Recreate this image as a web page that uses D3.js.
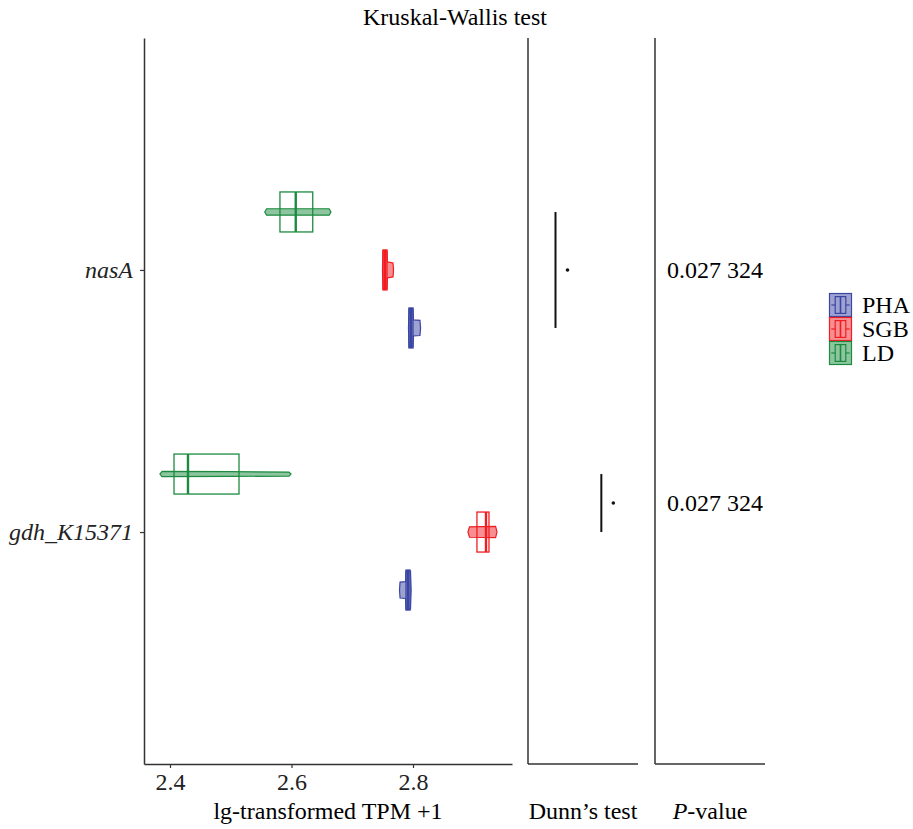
<!DOCTYPE html>
<html>
<head>
<meta charset="utf-8">
<script src="https://cdn.jsdelivr.net/npm/d3@7/dist/d3.min.js"></script>
<style>
  html, body { margin: 0; padding: 0; background: #fff; }
  svg { display: block; font-family: "Liberation Serif", "DejaVu Serif", serif; }
</style>
</head>
<body>
<svg id="chart" width="913" height="829"></svg>
<script>
// ---- data ----
const genes = ["nasA", "gdh_K15371"];
const groups = ["LD", "SGB", "PHA"];
const legendOrder = ["PHA", "SGB", "LD"];
const xTicks = [2.4, 2.6, 2.8];

// box statistics per gene, in group order LD, SGB, PHA
const q1Values = {
  nasA:        [2.581, 2.7506, 2.7934],
  gdh_K15371:  [2.4066, 2.9053, 2.7885]
};
const medianValues = {
  nasA:        [2.607, 2.7539, 2.7967],
  gdh_K15371:  [2.4296, 2.9202, 2.7918]
};
const q3Values = {
  nasA:        [2.635, 2.7572, 2.8000],
  gdh_K15371:  [2.5136, 2.9251, 2.7951]
};

// violin outlines: [value, relative half-thickness]
const violinNasA_LD  = [[2.556, 0], [2.559, 0.16], [2.662, 0.16], [2.665, 0]];
const violinNasA_SGB = [[2.7498, 0], [2.7506, 0.95], [2.7572, 0.95], [2.758, 0.4], [2.7671, 0.35], [2.768, 0]];
const violinNasA_PHA = [[2.7926, 0], [2.7934, 0.95], [2.8000, 0.95], [2.8008, 0.4], [2.8115, 0.38], [2.8125, 0]];
const violinGdh_LD   = [[2.3835, 0], [2.387, 0.13], [2.5, 0.12], [2.596, 0.1], [2.5992, 0]];
const violinGdh_SGB  = [[2.8905, 0], [2.893, 0.26], [2.936, 0.28], [2.9383, 0]];
const violinGdh_PHA  = [[2.7778, 0], [2.7787, 0.4], [2.7877, 0.42], [2.7885, 0.95], [2.7959, 0.95], [2.797, 0]];

const violins = {
  nasA:       { LD: violinNasA_LD, SGB: violinNasA_SGB, PHA: violinNasA_PHA },
  gdh_K15371: { LD: violinGdh_LD,  SGB: violinGdh_SGB,  PHA: violinGdh_PHA }
};

// Dunn's post-hoc comparisons (significant pair, bracket level)
const dunnGenes = ["nasA", "gdh_K15371"];
const dunnFrom  = ["LD", "LD"];
const dunnTo    = ["PHA", "SGB"];
const dunnLevel = [0.75, 2.0];
const dunnMark  = ["*", "*"];

// Kruskal-Wallis P-values
const pGenes  = ["nasA", "gdh_K15371"];
const pLabels = ["0.027 324", "0.027 324"];
const pAnchor = [["LD", "PHA"], ["LD", "SGB"]];

const colors = { PHA: "#3B46A3", SGB: "#F01E23", LD: "#1C8B40" };

// ---- layout ----
const svg = d3.select("#chart");
const panelTop = 38, panelBottom = 764;
const boxHalf = 20;
const fontSize = 24;

const x = d3.scaleLinear().domain([2.3572, 2.9630]).range([144, 512]);
const y = d3.scalePoint().domain(genes).range([panelTop, panelBottom]).padding(0.885);
const dodge = d3.scalePoint().domain(groups).range([-58, 58]);
const xDunn = d3.scaleLinear().domain([0, 3]).range([528, 638]);

const yPos = (gene, grp) => y(gene) + dodge(grp);

// title
svg.append("text")
  .attr("x", 455).attr("y", 25)
  .attr("text-anchor", "middle")
  .attr("font-size", fontSize)
  .text("Kruskal-Wallis test");

// ---- main panel ----
const main = svg.append("g");

const xAxis = d3.axisBottom(x).tickValues(xTicks).tickFormat(d3.format(".1f")).tickSize(4).tickSizeOuter(0);
const gx = main.append("g").attr("transform", `translate(0,${panelBottom})`).call(xAxis);
gx.select(".domain").attr("stroke", "#333").attr("stroke-width", 1.5);
gx.selectAll(".tick line").attr("stroke", "#333").attr("stroke-width", 1.2);
gx.selectAll(".tick text").attr("font-size", fontSize).attr("fill", "#222").attr("dy", "0.8em")
  .attr("font-family", "Liberation Serif");

const yAxis = d3.axisLeft(y).tickSize(4).tickSizeOuter(0);
const gy = main.append("g").attr("transform", "translate(144,0)").call(yAxis);
gy.select(".domain").attr("stroke", "#333").attr("stroke-width", 1.5);
gy.selectAll(".tick line").attr("stroke", "#333").attr("stroke-width", 1.2);
gy.selectAll(".tick text").attr("font-size", fontSize).attr("fill", "#222")
  .attr("font-style", "italic").attr("font-family", "Liberation Serif").attr("x", -11);

main.append("text")
  .attr("x", 328).attr("y", 819)
  .attr("text-anchor", "middle").attr("font-size", fontSize)
  .text("lg-transformed TPM +1");

// violins + boxes
const violinArea = d3.area()
  .x(d => x(d[0]))
  .y0(d => -d[1] * boxHalf)
  .y1(d => d[1] * boxHalf)
  .curve(d3.curveLinear);

genes.forEach(gene => {
  groups.forEach((grp, i) => {
    const cy = yPos(gene, grp);
    const col = colors[grp];
    const g = main.append("g").attr("transform", `translate(0,${cy})`);

    g.append("path")
      .attr("d", violinArea(violins[gene][grp]))
      .attr("fill", col).attr("fill-opacity", 0.5)
      .attr("stroke", col).attr("stroke-width", 1.2);

    const q1 = q1Values[gene][i], q3 = q3Values[gene][i], med = medianValues[gene][i];
    g.append("rect")
      .attr("x", x(q1)).attr("y", -boxHalf)
      .attr("width", x(q3) - x(q1)).attr("height", boxHalf * 2)
      .attr("fill", "none").attr("stroke", col).attr("stroke-width", 1.3);
    g.append("line")
      .attr("x1", x(med)).attr("x2", x(med))
      .attr("y1", -boxHalf).attr("y2", boxHalf)
      .attr("stroke", col).attr("stroke-width", 2.4);
  });
});

// ---- Dunn's test panel ----
const dunn = svg.append("g");
dunn.append("line").attr("x1", 528).attr("x2", 528).attr("y1", panelTop).attr("y2", panelBottom)
  .attr("stroke", "#333").attr("stroke-width", 1.5);
dunn.append("line").attr("x1", 528).attr("x2", 638).attr("y1", panelBottom).attr("y2", panelBottom)
  .attr("stroke", "#333").attr("stroke-width", 1.5);

dunnGenes.forEach((gene, i) => {
  const y1 = yPos(gene, dunnFrom[i]);
  const y2 = yPos(gene, dunnTo[i]);
  const xl = xDunn(dunnLevel[i]);
  dunn.append("line")
    .attr("x1", xl).attr("x2", xl).attr("y1", y1).attr("y2", y2)
    .attr("stroke", "#111").attr("stroke-width", 2);
  dunn.append("circle")
    .attr("cx", xl + 12).attr("cy", (y1 + y2) / 2).attr("r", 1.8)
    .attr("fill", "#111")
    .append("title").text(dunnMark[i]);
});

dunn.append("text")
  .attr("x", 583).attr("y", 819)
  .attr("text-anchor", "middle").attr("font-size", fontSize)
  .text("Dunn\u2019s test");

// ---- P-value panel ----
const pv = svg.append("g");
pv.append("line").attr("x1", 655).attr("x2", 655).attr("y1", panelTop).attr("y2", panelBottom)
  .attr("stroke", "#333").attr("stroke-width", 1.5);
pv.append("line").attr("x1", 655).attr("x2", 765).attr("y1", panelBottom).attr("y2", panelBottom)
  .attr("stroke", "#333").attr("stroke-width", 1.5);

pGenes.forEach((gene, i) => {
  const yy = (yPos(gene, pAnchor[i][0]) + yPos(gene, pAnchor[i][1])) / 2;
  pv.append("text")
    .attr("x", 667).attr("y", yy)
    .attr("dy", "0.35em")
    .attr("font-size", fontSize)
    .text(pLabels[i]);
});

const pt = pv.append("text")
  .attr("x", 710).attr("y", 819)
  .attr("text-anchor", "middle").attr("font-size", fontSize);
pt.append("tspan").attr("font-style", "italic").text("P");
pt.append("tspan").text("-value");

// ---- legend ----
const legend = svg.append("g");
const keyX = 829, keyW = 23, keyH = 24, keyTop = 293;
legendOrder.forEach((grp, i) => {
  const col = colors[grp];
  const ky = keyTop + i * keyH;
  const k = legend.append("g").attr("transform", `translate(${keyX},${ky})`);
  k.append("rect").attr("x", 0.5).attr("y", 0.5).attr("width", keyW - 1).attr("height", keyH - 1)
    .attr("fill", col).attr("fill-opacity", 0.5)
    .attr("stroke", col).attr("stroke-width", 1.2);
  k.append("rect").attr("x", keyW * 0.27).attr("y", keyH * 0.15)
    .attr("width", keyW * 0.46).attr("height", keyH * 0.7)
    .attr("fill", "none").attr("stroke", col).attr("stroke-width", 1.2);
  k.append("line").attr("x1", keyW / 2).attr("x2", keyW / 2)
    .attr("y1", keyH * 0.15).attr("y2", keyH * 0.85)
    .attr("stroke", col).attr("stroke-width", 1.6);
  k.append("line").attr("x1", keyW * 0.1).attr("x2", keyW * 0.27)
    .attr("y1", keyH / 2).attr("y2", keyH / 2)
    .attr("stroke", col).attr("stroke-width", 1.2);
  k.append("line").attr("x1", keyW * 0.73).attr("x2", keyW * 0.9)
    .attr("y1", keyH / 2).attr("y2", keyH / 2)
    .attr("stroke", col).attr("stroke-width", 1.2);
  legend.append("text")
    .attr("x", keyX + keyW + 10).attr("y", ky + keyH / 2)
    .attr("dy", "0.35em").attr("font-size", fontSize)
    .text(grp);
});
</script>
</body>
</html>
